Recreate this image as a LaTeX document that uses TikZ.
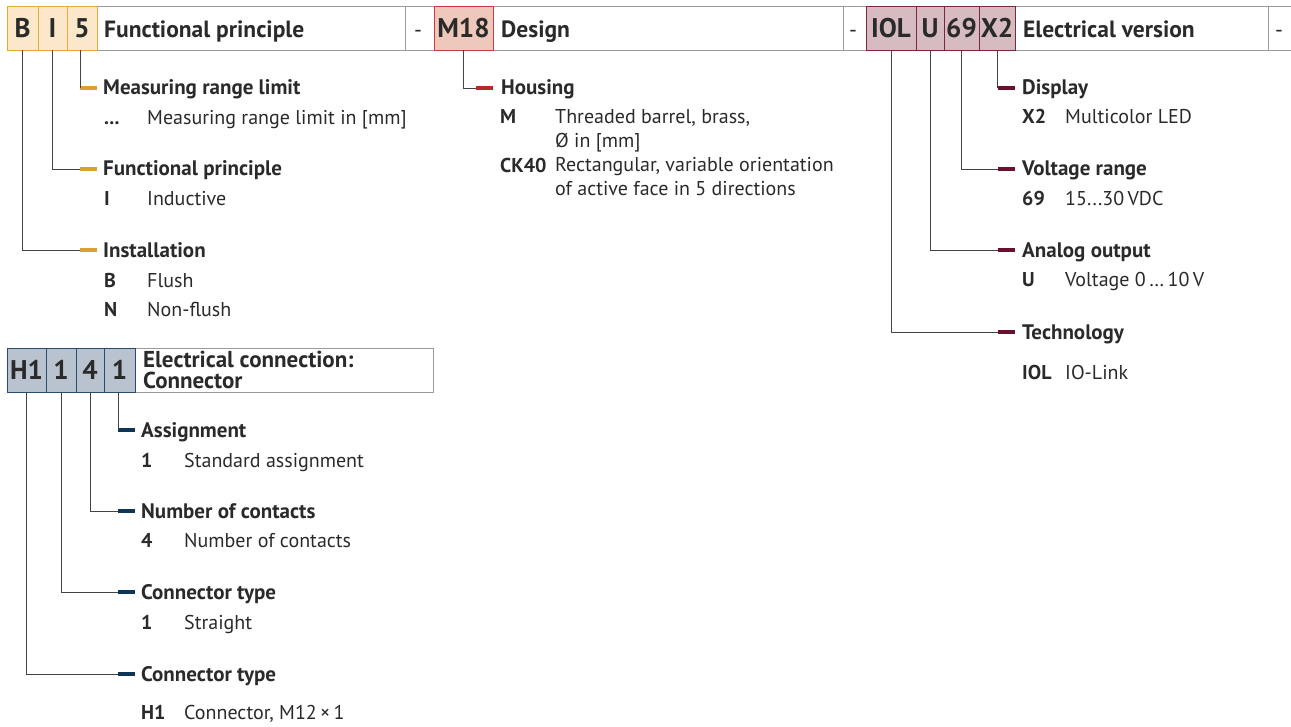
\documentclass[tikz,border=0pt]{standalone}
\usepackage{fontspec}
\setmainfont{PT Sans}
\definecolor{txt}{HTML}{2A2A2A}
\definecolor{barline}{HTML}{9A9A9A}
\definecolor{connc}{HTML}{444444}
\definecolor{orfill}{HTML}{FBE8CB}
\definecolor{orline}{HTML}{E6A838}
\definecolor{ortick}{HTML}{DDA030}
\definecolor{rdfill}{HTML}{EDC8BB}
\definecolor{rdline}{HTML}{D0373D}
\definecolor{rdtick}{HTML}{B5282C}
\definecolor{mvfill}{HTML}{D6BCC0}
\definecolor{mvline}{HTML}{7A2640}
\definecolor{mvtick}{HTML}{68102C}
\definecolor{blfill}{HTML}{B8C3CF}
\definecolor{blline}{HTML}{2A4C6B}
\definecolor{bltick}{HTML}{0E3556}
\tikzset{
  bar/.style={draw=barline, line width=1pt},
  conn/.style={draw=connc, line width=0.9pt},
  cell/.style={line width=1pt, inner sep=0pt, outer sep=0pt, anchor=north west,
    minimum height=44pt, text=txt, font=\fontsize{27}{27}\selectfont\bfseries},
  cellO/.style={cell, fill=orfill, draw=orline},
  cellR/.style={cell, fill=rdfill, draw=rdline},
  cellM/.style={cell, fill=mvfill, draw=mvline},
  cellB/.style={cell, fill=blfill, draw=blline},
  tick/.style={inner sep=0pt, outer sep=0pt, minimum width=17pt, minimum height=4pt},
  tickO/.style={tick, fill=ortick},
  tickR/.style={tick, fill=rdtick},
  tickM/.style={tick, fill=mvtick},
  tickB/.style={tick, fill=bltick},
  title/.style={anchor=base west, inner sep=0pt, text=txt, font=\fontsize{23.5}{23.5}\selectfont\bfseries},
  sep/.style={anchor=base, inner sep=0pt, text=txt, font=\fontsize{22}{22}\selectfont},
  head/.style={anchor=base west, inner sep=0pt, text=txt, font=\fontsize{21}{21}\selectfont\bfseries},
  key/.style={anchor=base west, inner sep=0pt, text=txt, font=\fontsize{20}{20}\selectfont\bfseries},
  desc/.style={anchor=base west, inner sep=0pt, text=txt, align=left, font=\fontsize{20}{24}\selectfont},
}
\begin{document}
\begin{tikzpicture}[x=1pt, y=-1pt]
\useasboundingbox (0,0) rectangle (1291,726);
% ---------- top bar ----------
\draw[bar] (7,6) rectangle (1310,50);
\draw[bar] (405,6) -- (405,50);
\draw[bar] (843,6) -- (843,50);
\draw[bar] (1268,6) -- (1268,50);
\node[cellO, minimum width=31pt] (cB) at (7,6) {B};
\node[cellO, minimum width=29pt] (cI) at (38,6) {I};
\node[cellO, minimum width=30pt] (c5) at (67,6) {5};
\node[title] (tFP) at (104,37) {Functional principle};
\node[sep] (s1) at (418,37) {-};
\node[cellR, minimum width=59pt] (cM) at (434,6) {M18};
\node[title] (tDes) at (501,37) {Design};
\node[sep] (s2) at (853,37) {-};
\node[cellM, minimum width=50pt] (cIOL) at (866,6) {IOL};
\node[cellM, minimum width=28pt] (cU) at (916,6) {U};
\node[cellM, minimum width=35pt] (c69) at (944,6) {69};
\node[cellM, minimum width=36pt] (cX2) at (979,6) {X2};
\node[title] (tEV) at (1023,37) {Electrical version};
\node[sep] (s3) at (1279,37) {-};
% ---------- orange group ----------
\node[tickO] (k5) at (88.5,88) {};
\node[tickO] (kI) at (88.5,169) {};
\node[tickO] (kB) at (88.5,250) {};
\draw[conn] (k5.west |- c5.south) -- (k5.west);
\draw[conn] (cI.south) |- (kI.west);
\draw[conn] (cB.south) |- (kB.west);
\node[head] (h5) at (103,94.5) {Measuring range limit};
\node[key] (a5) at (104,124.5) {...};
\node[desc] (d5) at (147,124.5) {Measuring range limit in [mm]};
\node[head] (hI) at (103,175.5) {Functional principle};
\node[key] (aI) at (104,205) {I};
\node[desc] (dI) at (147,205) {Inductive};
\node[head] (hB) at (103,257) {Installation};
\node[key] (aB) at (104,287) {B};
\node[desc] (dB) at (147,287) {Flush};
\node[key] (aN) at (104,316) {N};
\node[desc] (dN) at (147,316) {Non-flush};
% ---------- red group ----------
\node[tickR] (kM) at (484,88) {};
\draw[conn] (cM.south) |- (kM.west);
\node[head] (hM) at (501,94.5) {Housing};
\node[key] (aM) at (500,123) {M};
\node[desc] (dM) at (555,147) {Threaded barrel, brass,\\Ø in [mm]};
\node[key] (aCK) at (500,172) {CK40};
\node[desc] (dCK) at (555,195.5) {Rectangular, variable orientation\\of active face in 5 directions};
% ---------- mauve group ----------
\node[tickM] (kX2) at (1006,88) {};
\node[tickM] (k69) at (1006,169) {};
\node[tickM] (kU) at (1006,250) {};
\node[tickM] (kIOL) at (1006,332) {};
\draw[conn] (kX2.west |- cX2.south) -- (kX2.west);
\draw[conn] (c69.south) |- (k69.west);
\draw[conn] (cU.south) |- (kU.west);
\draw[conn] (cIOL.south) |- (kIOL.west);
\node[head] (hX2) at (1022,94.5) {Display};
\node[key] (aX2) at (1022,123.5) {X2};
\node[desc] (dX2) at (1065,123.5) {Multicolor LED};
\node[head] (h69) at (1022,175.5) {Voltage range};
\node[key] (a69) at (1022,205) {69};
\node[desc] (d69) at (1065,205) {15...30\,VDC};
\node[head] (hU) at (1022,257) {Analog output};
\node[key] (aU) at (1022,286.5) {U};
\node[desc] (dU) at (1065,286.5) {Voltage 0\,…\,10\,V};
\node[head] (hIOL) at (1022,339) {Technology};
\node[key] (aIOL) at (1022,379) {IOL};
\node[desc] (dIOL) at (1065,379) {IO-Link};
% ---------- blue group ----------
\draw[bar] (7,348) rectangle (433,392);
\node[cellB, minimum width=39pt] (cH1) at (7,348) {H1};
\node[cellB, minimum width=30pt] (c1a) at (46,348) {1};
\node[cellB, minimum width=28pt] (c4) at (76,348) {4};
\node[cellB, minimum width=31pt] (c1b) at (104,348) {1};
\node[anchor=base west, inner sep=0pt, text=txt, align=left,
  font=\fontsize{23}{21}\selectfont\bfseries] (tEC) at (143,388) {Electrical connection:\\Connector};
\node[tickB] (k1b) at (126.5,430) {};
\node[tickB] (k4) at (126.5,511) {};
\node[tickB] (k1a) at (126.5,592) {};
\node[tickB] (kH1) at (126.5,674) {};
\draw[conn] (k1b.west |- c1b.south) -- (k1b.west);
\draw[conn] (c4.south) |- (k4.west);
\draw[conn] (c1a.south) |- (k1a.west);
\draw[conn] (cH1.south) |- (kH1.west);
\node[head] (h1b) at (141,437) {Assignment};
\node[key] (a1b) at (141,467) {1};
\node[desc] (d1b) at (184,467) {Standard assignment};
\node[head] (h4) at (141,518) {Number of contacts};
\node[key] (a4) at (141,547) {4};
\node[desc] (d4) at (184,547) {Number of contacts};
\node[head] (h1a) at (141,599.5) {Connector type};
\node[key] (a1a) at (141,629) {1};
\node[desc] (d1a) at (184,629) {Straight};
\node[head] (hH1) at (141,681) {Connector type};
\node[key] (aH1) at (141,719) {H1};
\node[desc] (dH1) at (184,719) {Connector, M12\,×\,1};
\end{tikzpicture}
\end{document}
